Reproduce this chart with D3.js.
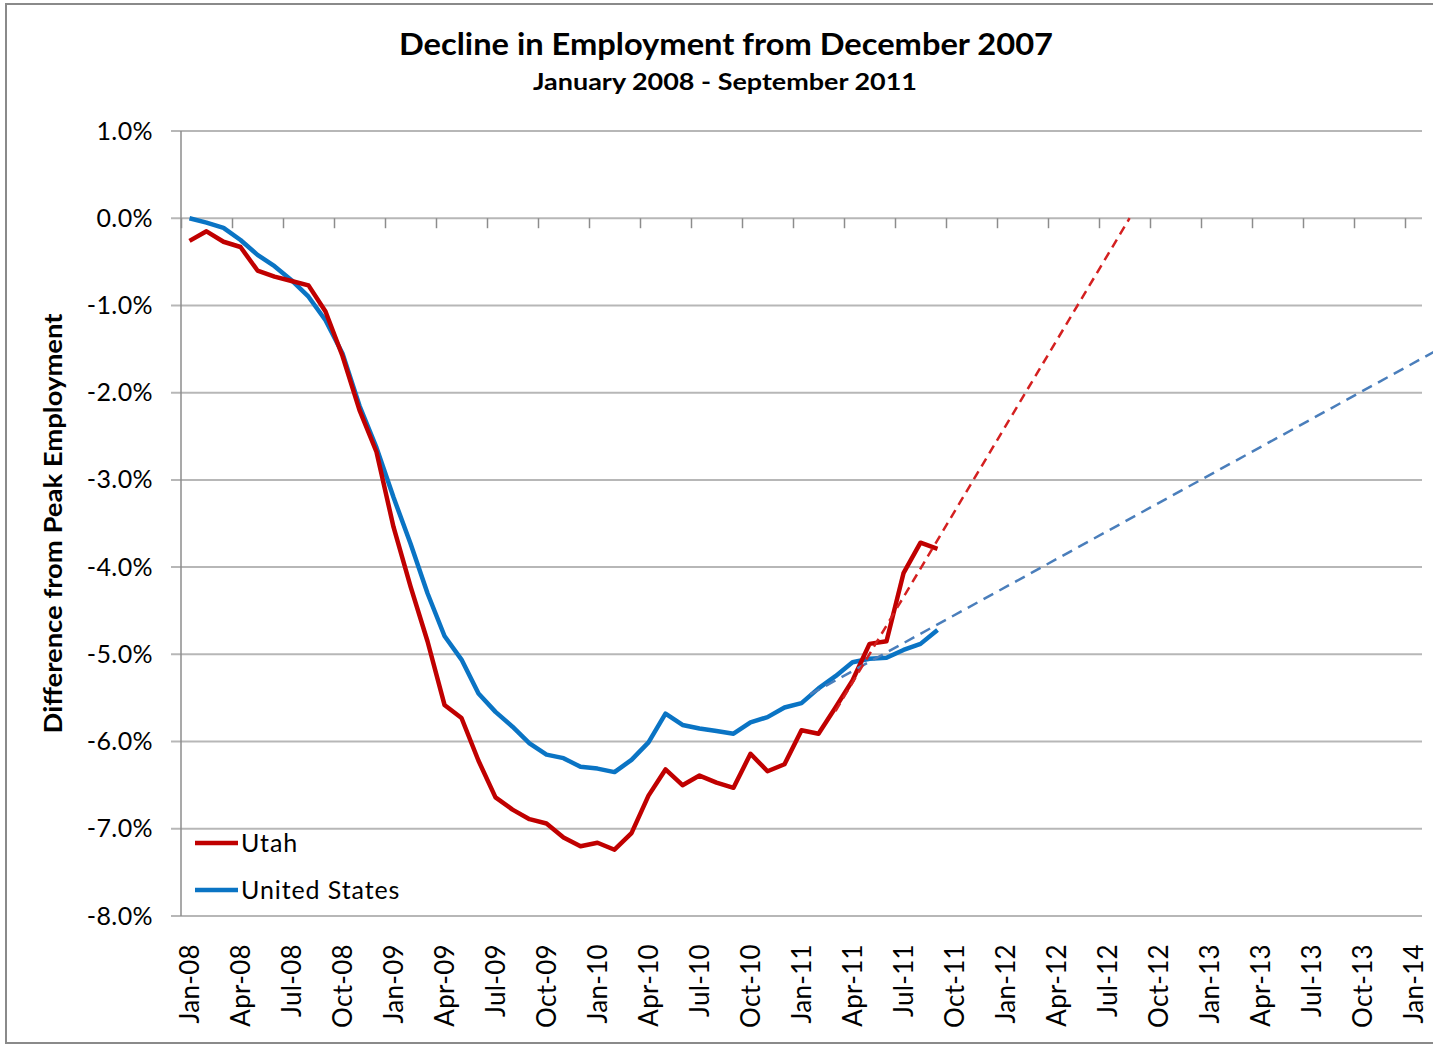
<!DOCTYPE html>
<html>
<head>
<meta charset="utf-8">
<script src="https://cdn.jsdelivr.net/npm/d3@7"></script>
<style>
  body { margin: 0; background: #fff; }
  text { font-family: Lato, "Open Sans", sans-serif; fill: #000; }
</style>
</head>
<body>
<div id="chart"></div>
<script>
// month categories Jan-08 .. Jan-14
const years = ["08", "09", "10", "11", "12", "13", "14"]
const monthNames = ["Jan", "Feb", "Mar", "Apr", "May", "Jun", "Jul", "Aug", "Sep", "Oct", "Nov", "Dec"]
const categories = []
years.forEach(y => monthNames.forEach(m => { if (categories.length < 73) categories.push(m + "-" + y) }))

const tickLabels = ["Jan-08","Apr-08","Jul-08","Oct-08","Jan-09","Apr-09","Jul-09","Oct-09",
  "Jan-10","Apr-10","Jul-10","Oct-10","Jan-11","Apr-11","Jul-11","Oct-11",
  "Jan-12","Apr-12","Jul-12","Oct-12","Jan-13","Apr-13","Jul-13","Oct-13","Jan-14"]

const yTicks = [1, 0, -1, -2, -3, -4, -5, -6, -7, -8]

// percent difference from peak, Jan-08 .. Sep-11
const utah = [-0.26,-0.15,-0.27,-0.33,-0.60,-0.67,-0.72,-0.77,-1.07,-1.58,
  -2.20,-2.68,-3.54,-4.22,-4.85,-5.58,-5.73,-6.22,-6.64,-6.78,
  -6.89,-6.94,-7.10,-7.20,-7.16,-7.24,-7.05,-6.62,-6.32,-6.50,
  -6.39,-6.47,-6.53,-6.14,-6.34,-6.26,-5.87,-5.91,-5.61,-5.30,
  -4.88,-4.85,-4.07,-3.72,-3.79]
const unitedStates = [0.00,-0.05,-0.11,-0.25,-0.42,-0.55,-0.71,-0.90,-1.17,-1.55,
  -2.15,-2.63,-3.20,-3.73,-4.30,-4.79,-5.06,-5.45,-5.66,-5.83,
  -6.02,-6.15,-6.19,-6.29,-6.31,-6.35,-6.21,-6.01,-5.68,-5.81,
  -5.85,-5.88,-5.91,-5.78,-5.72,-5.61,-5.56,-5.39,-5.25,-5.09,
  -5.05,-5.04,-4.95,-4.88,-4.72]

// linear trend lines: [month index, value] at each end
const utahTrend = [[38, -5.65], [55.3, 0]]
const usTrend = [[36.5, -5.46], [73.5, -1.50]]

const margin = { top: 131, right: 11, bottom: 130, left: 181 },
    W = 1433, H = 1046,
    width = W - margin.left - margin.right,
    height = H - margin.top - margin.bottom

const svg = d3.select("#chart").append("svg")
    .attr("width", W)
    .attr("height", H)

// outer chart border
svg.append("rect")
    .attr("x", 6).attr("y", 4)
    .attr("width", W + 10).attr("height", H - 7)
    .attr("fill", "none")
    .attr("stroke", "#8a8a8a")
    .attr("stroke-width", 2)

svg.append("text")
    .attr("x", 726).attr("y", 55)
    .attr("text-anchor", "middle")
    .attr("font-size", 30).attr("font-weight", "bold")
    .attr("textLength", 654).attr("lengthAdjust", "spacingAndGlyphs")
    .text("Decline in Employment from December 2007")

svg.append("text")
    .attr("x", 725).attr("y", 90)
    .attr("text-anchor", "middle")
    .attr("font-size", 23).attr("font-weight", "bold")
    .attr("textLength", 384).attr("lengthAdjust", "spacingAndGlyphs")
    .text("January 2008 - September 2011")

const g = svg.append("g")
    .attr("transform", "translate(" + margin.left + "," + margin.top + ")")

const x = d3.scaleLinear().domain([-0.5, categories.length - 0.5]).range([0, width])
const y = d3.scaleLinear().domain([-8, 1]).range([height, 0])

// horizontal gridlines
g.selectAll(".grid")
    .data(yTicks)
    .enter().append("line")
    .attr("class", "grid")
    .attr("x1", -10).attr("x2", width)
    .attr("y1", d => y(d)).attr("y2", d => y(d))
    .attr("stroke", "#b7b7b7")
    .attr("stroke-width", 2)

// y axis
const yAxis = g.append("g")
    .call(d3.axisLeft(y).tickValues(yTicks).tickSize(0).tickPadding(28)
        .tickFormat(d => d.toFixed(1) + "%"))
yAxis.select(".domain").remove()
yAxis.selectAll("text").attr("font-size", 25).attr("font-family", "Lato, sans-serif").attr("fill", "#000")
    .attr("letter-spacing", 0.4)

g.append("line")
    .attr("x1", 0).attr("x2", 0)
    .attr("y1", 0).attr("y2", height)
    .attr("stroke", "#8c8c8c").attr("stroke-width", 1.5)

// category axis on the zero line, tick marks at every third boundary
const boundaries = d3.range(-0.5, categories.length - 1, 3)
const xAxis = g.append("g")
    .attr("transform", "translate(0," + y(0) + ")")
    .call(d3.axisBottom(x).tickValues(boundaries).tickSize(10).tickFormat(""))
xAxis.select(".domain").remove()
xAxis.selectAll(".tick line").attr("stroke", "#8c8c8c").attr("stroke-width", 1.5)

// category labels at the bottom
g.selectAll(".xLabel")
    .data(tickLabels)
    .enter().append("text")
    .attr("class", "xLabel")
    .attr("transform", d => "translate(" + x(categories.indexOf(d)) + "," + (height + 28) + ") rotate(-90)")
    .attr("text-anchor", "end")
    .attr("dy", "0.36em")
    .attr("font-size", 26)
    .attr("letter-spacing", 0.3)
    .text(d => d)

svg.append("text")
    .attr("transform", "translate(62," + (margin.top + height / 2) + ") rotate(-90)")
    .attr("text-anchor", "middle")
    .attr("font-size", 24).attr("font-weight", "bold")
    .attr("textLength", 420).attr("lengthAdjust", "spacingAndGlyphs")
    .text("Difference from Peak Employment")

const line = d3.line()
    .x((d, i) => x(i))
    .y(d => y(d))

g.append("path")
    .datum(unitedStates)
    .attr("d", line)
    .attr("fill", "none")
    .attr("stroke", "#0a74c4")
    .attr("stroke-width", 4.5)
    .attr("stroke-linejoin", "round")

g.append("path")
    .datum(utah)
    .attr("d", line)
    .attr("fill", "none")
    .attr("stroke", "#c00000")
    .attr("stroke-width", 4.5)
    .attr("stroke-linejoin", "round")

const trendLine = d3.line().x(d => x(d[0])).y(d => y(d[1]))

g.append("path")
    .datum(usTrend)
    .attr("d", trendLine)
    .attr("fill", "none")
    .attr("stroke", "#4a7ebb")
    .attr("stroke-width", 2.5)
    .attr("stroke-dasharray", "11,7")

g.append("path")
    .datum(utahTrend)
    .attr("d", trendLine)
    .attr("fill", "none")
    .attr("stroke", "#d42020")
    .attr("stroke-width", 2.5)
    .attr("stroke-dasharray", "9,6")

// legend
const legendItems = [
    { name: "Utah", color: "#c00000" },
    { name: "United States", color: "#0a74c4" }
]
const legend = g.selectAll(".legend")
    .data(legendItems)
    .enter().append("g")
    .attr("class", "legend")
    .attr("transform", (d, i) => "translate(14," + (712 + i * 47) + ")")

legend.append("line")
    .attr("x1", 0).attr("x2", 43)
    .attr("stroke", d => d.color)
    .attr("stroke-width", 4.5)

legend.append("text")
    .attr("x", 46).attr("y", 9)
    .attr("font-size", 25)
    .attr("letter-spacing", 0.9)
    .text(d => d.name)
</script>
</body>
</html>
